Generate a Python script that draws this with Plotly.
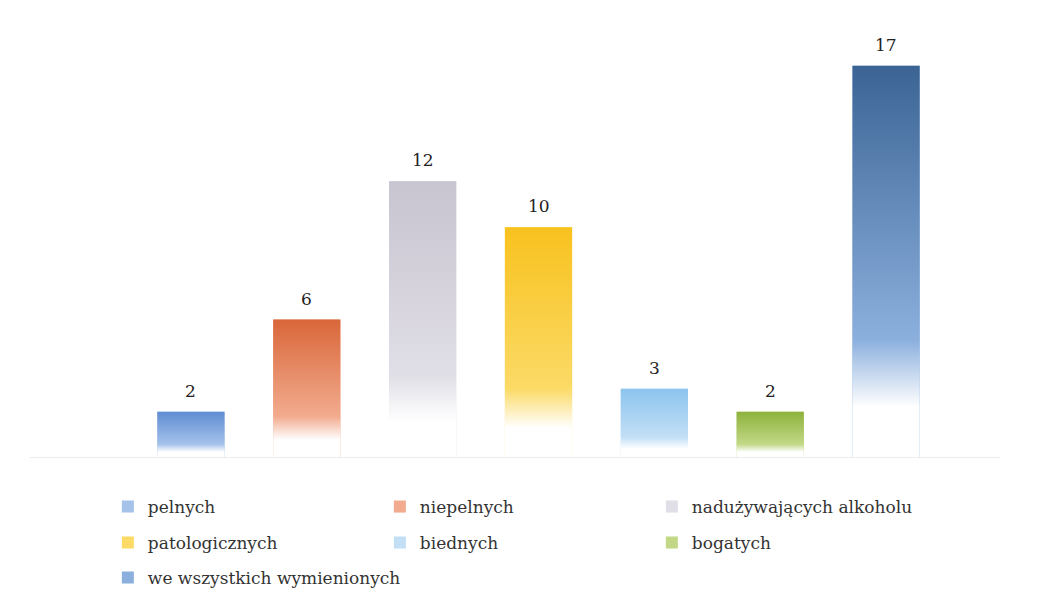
import plotly.graph_objects as go

categories = ["pelnych", "niepelnych", "nadużywających alkoholu",
              "patologicznych", "biednych", "bogatych", "we wszystkich wymienionych"]
values = [2, 6, 12, 10, 3, 2, 17]
top_colors = ["#5f8dd3", "#d9673a", "#c8c4d0", "#f8c21f", "#8cc4ee", "#8db23c", "#3b6494"]
mid_colors = ["#a4c2ea", "#f2ab8e", "#e0dee6", "#fbda66", "#c2dff6", "#c2d886", "#8cb0de"]
legend_ids = ["legend", "legend", "legend", "legend2", "legend2", "legend2", "legend3"]

FONT = "DejaVu Serif"
BAR_W = 0.58

fig = go.Figure()
for i, (name, v) in enumerate(zip(categories, values)):
    fig.add_trace(go.Bar(
        x=[i], y=[v], width=BAR_W, name=name,
        marker=dict(color=mid_colors[i], line=dict(width=0)),
        legend=legend_ids[i], hoverinfo="skip",
    ))

for i, v in enumerate(values):
    x0, x1 = i - BAR_W / 2, i + BAR_W / 2
    fig.add_trace(go.Scatter(
        x=[x0, x0, x1, x1, x0], y=[0, v, v, 0, 0],
        mode="none", fill="toself",
        fillgradient=dict(
            type="vertical",
            colorscale=[[0, "rgba(255,255,255,1)"], [0.13, "rgba(255,255,255,1)"],
                        [0.3, mid_colors[i]], [1, top_colors[i]]],
            start=0, stop=v,
        ),
        showlegend=False, hoverinfo="skip",
    ))

for i, v in enumerate(values):
    fig.add_annotation(x=i, y=v, text=str(v), showarrow=False,
                       yanchor="bottom", yshift=9,
                       font=dict(family=FONT, size=17, color="#222222"))

fig.add_shape(type="line", xref="paper", yref="y",
              x0=-0.127, x1=1.069, y0=0, y1=0,
              line=dict(color="#e6e6e6", width=1.5))

leg_common = dict(orientation="h", xanchor="left", yanchor="middle",
                  x=-0.031, entrywidthmode="pixels",
                  font=dict(family=FONT, size=17, color="#333333"),
                  bgcolor="rgba(0,0,0,0)", itemclick=False)

fig.update_layout(
    width=1049, height=594,
    margin=dict(l=125, r=113, t=22, b=144, autoexpand=False),
    paper_bgcolor="white", plot_bgcolor="white",
    barmode="overlay", showlegend=True,
    xaxis=dict(range=[-0.5, 6.5], visible=False, fixedrange=True),
    yaxis=dict(range=[0, 18.55], visible=False, fixedrange=True),
    legend=dict(y=-0.1145, entrywidth=227, **leg_common),
    legend2=dict(y=-0.1986, entrywidth=227, **leg_common),
    legend3=dict(y=-0.2804, entrywidth=400, **leg_common),
    font=dict(family=FONT),
)

fig.write_html("out.html")
